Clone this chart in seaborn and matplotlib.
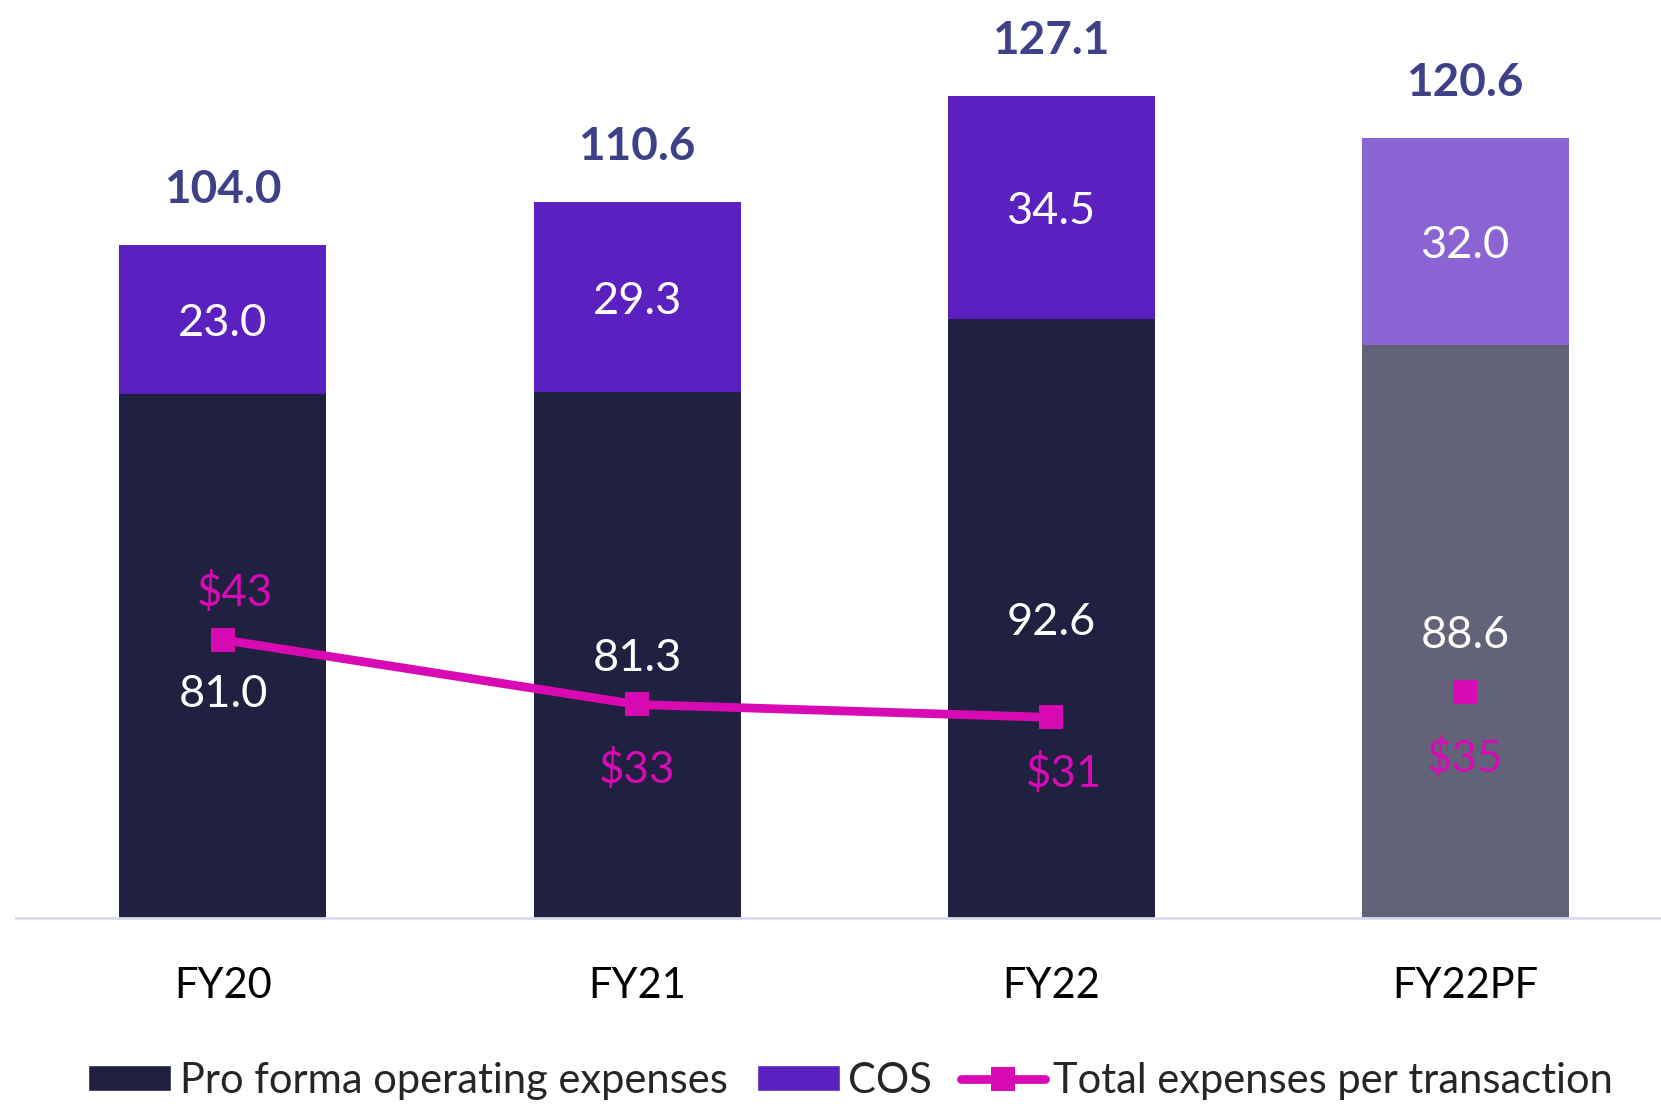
import seaborn as sns
import matplotlib
matplotlib.use("Agg")
import matplotlib.pyplot as plt
from matplotlib.patches import Patch
from matplotlib.lines import Line2D

sns.set_theme(style="white")
plt.rcParams['font.family'] = ['Lato', 'DejaVu Sans']

# data
years = ["FY20", "FY21", "FY22", "FY22PF"]
opex = [81.0, 81.3, 92.6, 88.6]
cos = [23.0, 29.3, 34.5, 32.0]
totals = [104.0, 110.6, 127.1, 120.6]
per_txn = [43, 33, 31, 35]

NAVY = "#202040"
PURPLE = "#5a20c0"
PF_GREY = "#626278"
PF_PURPLE = "#8a64d2"
MAGENTA = "#d80ab4"
TOTAL_COL = "#3f4188"

opex_pal = dict(zip(years, [NAVY, NAVY, NAVY, PF_GREY]))
cos_pal = dict(zip(years, [PURPLE, PURPLE, PURPLE, PF_PURPLE]))

fig = plt.figure(figsize=(16.61, 11.04), dpi=100)
ax = fig.add_axes([0.0096, 0.1685, 0.9904, 0.8315])

# stacked bars: full total in COS colour, opex drawn over it
sns.barplot(x=years, y=totals, hue=years, palette=cos_pal, width=0.5,
            legend=False, ax=ax, saturation=1, linewidth=0)
sns.barplot(x=years, y=opex, hue=years, palette=opex_pal, width=0.5,
            legend=False, ax=ax, saturation=1, linewidth=0)

# per-transaction line (FY22PF shown as a standalone marker)
x_idx = list(range(len(years)))
sns.lineplot(x=x_idx[:3], y=per_txn[:3], color=MAGENTA, lw=6.3, marker="s",
             markersize=17.5, markeredgewidth=0, ax=ax)
ax.plot(x_idx[3], per_txn[3], marker="s", color=MAGENTA, markersize=17.5,
        markeredgewidth=0, linestyle="none")

ax.set_xlim(-0.5, 3.473)
ax.set_ylim(0, 141.9)

# labels (small downward shift to mimic Calibri baseline)
shift = -0.6
opex_nudge = [-5.3, 0, 0, 0]
for i in x_idx:
    ax.text(i, opex[i] / 2 + opex_nudge[i] + shift, f"{opex[i]:.1f}",
            color="white", fontsize=32.5, ha="center", va="center")
    ax.text(i, opex[i] + cos[i] / 2 + shift, f"{cos[i]:.1f}", color="white",
            fontsize=32.5, ha="center", va="center")
    ax.text(i, totals[i] + 9.1 + shift, f"{totals[i]:.1f}", color=TOTAL_COL,
            fontsize=33, fontweight="bold", ha="center", va="center")

txt_off = [(0.03, 7.9), (0, -9.6), (0.03, -8.2), (0, -9.8)]
for i in x_idx:
    dx, dy = txt_off[i]
    ax.text(i + dx, per_txn[i] + dy + shift, f"${per_txn[i]}", color=MAGENTA,
            fontsize=31.5, ha="center", va="center")

ax.set_xlabel("")
ax.set_ylabel("")
ax.set_yticks([])
ax.tick_params(axis="x", length=0, pad=35, labelsize=30, labelcolor="black")
for s in ["top", "left", "right"]:
    ax.spines[s].set_visible(False)
ax.spines["bottom"].set_color("#d9d9ee")
ax.spines["bottom"].set_linewidth(2)

handles = [
    Patch(facecolor=NAVY, label="Pro forma operating expenses"),
    Patch(facecolor=PURPLE, label="COS"),
    Line2D([0], [0], color=MAGENTA, lw=6.3, marker="s", markersize=17.5,
           markeredgewidth=0, label="Total expenses per transaction"),
]
fig.legend(handles=handles, loc="center", bbox_to_anchor=(0.512, 0.021),
           ncol=3, frameon=False, fontsize=30, handlelength=2.0,
           handleheight=0.6, handletextpad=0.2, columnspacing=0.7)

fig.savefig("out.png", dpi=100)
